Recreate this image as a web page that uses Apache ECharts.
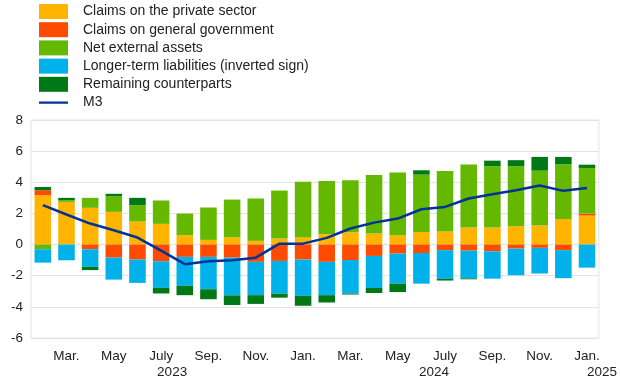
<!DOCTYPE html>
<html><head><meta charset="utf-8">
<script src="https://cdn.jsdelivr.net/npm/echarts@6/dist/echarts.min.js"></script>
<style>html,body{margin:0;padding:0;background:#fff}#c{width:620px;height:387px}</style>
</head><body><div id="c"></div>
<script>
const months = ["Feb.","Mar.","Apr.","May","June","July","Aug.","Sep.","Oct.","Nov.","Dec.",
                "Jan.","Feb.","Mar.","Apr.","May","June","July","Aug.","Sep.","Oct.","Nov.","Dec.","Jan."];
const years  = ["","","","","","2023","","","","","",
                "","","","","","","2024","","","","","","2025"];
const privateSector = [3.17,2.74,2.36,2.10,1.48,1.33,0.60,0.30,0.47,0.24,0.39,0.45,0.66,0.79,0.71,0.60,0.81,0.84,1.09,1.09,1.18,1.22,1.65,1.86];
const generalGov    = [0.32,0,-0.30,-0.84,-0.96,-1.07,-0.79,-0.79,-0.84,-1.11,-1.05,-0.96,-1.11,-0.99,-0.73,-0.58,-0.54,-0.36,-0.39,-0.43,-0.26,-0.21,-0.36,0.13];
const netExternal   = [-0.30,0.11,0.64,1.01,1.05,1.50,1.39,2.08,2.42,2.72,3.08,3.58,3.43,3.34,3.75,4.03,3.68,3.88,4.05,3.94,3.85,3.53,3.51,2.93];
const longerTerm    = [-0.86,-1.01,-1.13,-1.41,-1.50,-1.71,-1.86,-2.08,-2.42,-2.14,-2.10,-2.33,-2.14,-2.16,-2.06,-1.93,-1.97,-1.84,-1.78,-1.76,-1.71,-1.65,-1.80,-1.48];
const remaining     = [0.21,0.15,-0.21,0.15,0.47,-0.36,-0.60,-0.64,-0.62,-0.56,-0.26,-0.64,-0.47,-0.06,-0.32,-0.54,0.28,-0.11,-0.06,0.36,0.39,0.88,0.47,0.21];
const m3            = [2.53,1.93,1.35,0.92,0.45,-0.39,-1.26,-1.07,-1.00,-0.84,0.06,0.06,0.43,1.03,1.41,1.67,2.27,2.42,2.96,3.23,3.49,3.79,3.45,3.64];
const yTicks = {min:-6, max:8, interval:2};

const cats = months.map((m,i)=>m+"|"+years[i]+"|"+i);
const bar = (name, data, color) => ({name, type:'bar', stack:'s', data, barWidth:'70%',
  itemStyle:{color}, emphasis:{disabled:true}});
const lineIcon = 'path://M0,0L0.05,0L0,0.05Z M0,6.5L29,6.5L29,8.7L0,8.7Z M29,15L28.95,15L29,14.95Z';
const chart = echarts.init(document.getElementById('c'));
chart.setOption({
  animation:false,
  textStyle:{fontFamily:'Liberation Sans, Arial, sans-serif'},
  legend:{orient:'vertical', left:39, top:4, padding:0, itemWidth:29, itemHeight:15, itemGap:3.2,
    icon:'rect',
    textStyle:{fontSize:14, lineHeight:15, color:'#222', padding:[0,0,0,10], fontFamily:'Liberation Sans, Arial, sans-serif'},
    data:['Claims on the private sector','Claims on general government','Net external assets',
          'Longer-term liabilities (inverted sign)','Remaining counterparts',{name:'M3', icon:lineIcon}]},
  grid:{left:31, right:20, top:120, bottom:49, show:true, borderColor:'#e3e3e3', borderWidth:1},
  xAxis:{type:'category', data:cats, axisLine:{show:false}, axisTick:{show:false},
    axisLabel:{interval:(i)=>i%2===1, fontSize:13.5, color:'#222', margin:10,
      formatter:(v)=>{const p=v.split('|'); const y=p[1];
        if(!y) return '{m|'+p[0]+'}';
        const st = y==='2023'?'ya':(y==='2024'?'yb':'yc');
        return '{m|'+p[0]+'}\n{'+st+'|'+y+'}';},
      rich:{m:{fontSize:13.5,color:'#222',lineHeight:16},
            ya:{fontSize:13.5,color:'#222',lineHeight:16,padding:[0,0,0,22]},
            yb:{fontSize:13.5,color:'#222',lineHeight:16,padding:[0,22,0,0]},
            yc:{fontSize:13.5,color:'#222',lineHeight:16,padding:[0,0,0,30]}}}},
  yAxis:{type:'value', min:yTicks.min, max:yTicks.max, interval:yTicks.interval,
    axisLabel:{fontSize:13.5, color:'#222', margin:8},
    splitLine:{lineStyle:{color:'#e3e3e3', width:1}}},
  series:[
    bar('Claims on the private sector', privateSector, '#FFB400'),
    bar('Claims on general government', generalGov, '#FF4B00'),
    bar('Net external assets', netExternal, '#65B800'),
    bar('Longer-term liabilities (inverted sign)', longerTerm, '#00B1EA'),
    bar('Remaining counterparts', remaining, '#007816'),
    {name:'M3', type:'line', data:m3, symbol:'none', showSymbol:false,
     lineStyle:{color:'#003299', width:2.5}, itemStyle:{color:'#003299'}, z:10}
  ]
});
</script></body></html>
